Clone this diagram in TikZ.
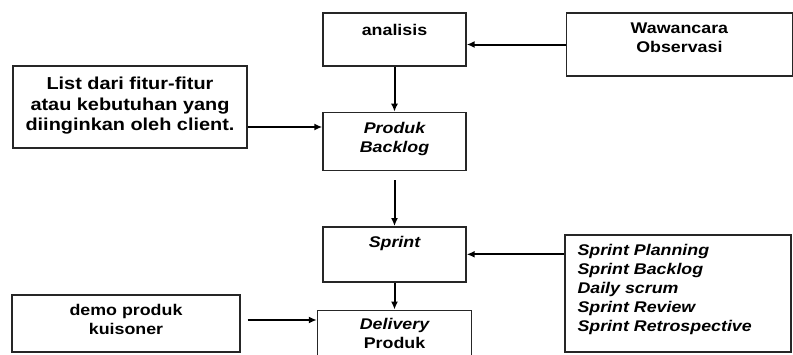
\documentclass[tikz,border=0pt]{standalone}
\usepackage{fontspec}
\setmainfont{Liberation Sans}[FakeStretch=1.15]
\usetikzlibrary{positioning, arrows.meta}

\begin{document}
\begin{tikzpicture}[x=1pt, y=-1pt]
\tikzstyle{box}=[rectangle, draw=black!85, line width=1.4pt, inner sep=0pt]
\tikzstyle{txt}=[anchor=north, yshift=-10pt, inner sep=0pt, align=center, font=\fontsize{15.5}{19}\selectfont\bfseries]
\tikzstyle{txtit}=[txt, font=\fontsize{15.5}{19}\selectfont\bfseries\itshape]
\tikzstyle{connect}=[-{Latex[length=8pt,width=7pt]}, line width=2pt]
\useasboundingbox (0,0) rectangle (793,354);
% 2. Nodes
%%%%%%%%%%
\node[box, minimum width=143pt, minimum height=53pt, label={[txt, yshift=-2pt]north:analisis}] (analisis) at (394.5,39.5) {};
\node[box, minimum width=143pt, minimum height=58pt, below=45pt of analisis, label={[txtit]north:Produk\\Backlog}] (backlog) {};
\node[box, minimum width=143pt, minimum height=55pt, below=55pt of backlog, label={[txtit]north:Sprint}] (sprint) {};
\node[box, minimum width=154pt, minimum height=60pt, below=27pt of sprint, label={[txt, yshift=1pt]north:{\itshape Delivery}\\Produk}] (delivery) {};

\node[box, minimum width=226pt, minimum height=63pt, right=99pt of analisis.north east, anchor=north west, label={[txt]north:Wawancara\\Observasi}] (waw) {};
\node[box, minimum width=234pt, minimum height=82pt, label={[txt, yshift=-1.5pt, font=\fontsize{17.3}{20.5}\selectfont\bfseries]north:List dari fitur-fitur\\atau kebutuhan yang\\diinginkan oleh client.}] (list) at (130,107) {};
\node[box, minimum width=226pt, minimum height=117pt, label={[txtit, anchor=north west, xshift=13pt, align=left]north west:Sprint Planning\\Sprint Backlog\\Daily scrum\\Sprint Review\\Sprint Retrospective}] (events) at (678,293.5) {};
\node[box, minimum width=228pt, minimum height=57pt, label={[txt]north:demo produk\\kuisoner}] (demo) at (126,323.5) {};

\coordinate (listout) at ([yshift=-20pt]list.east);
\coordinate (demoout) at ([xshift=7pt, yshift=3.5pt]demo.east);
% 3. Arrows
%%%%%%%%%%%
\draw[connect] (analisis) -- (backlog);
\draw[connect] (waw.west) -- (waw.west -| analisis.east);
\draw[connect] (listout) -- (listout -| backlog.west);
\draw[connect, shorten <=9pt] (backlog) -- (sprint);
\draw[connect] (events.west |- sprint.east) -- (sprint.east);
\draw[connect] (sprint) -- (delivery);
\draw[connect] (demoout) -- (demoout -| delivery.west);

\end{tikzpicture}
\end{document}
